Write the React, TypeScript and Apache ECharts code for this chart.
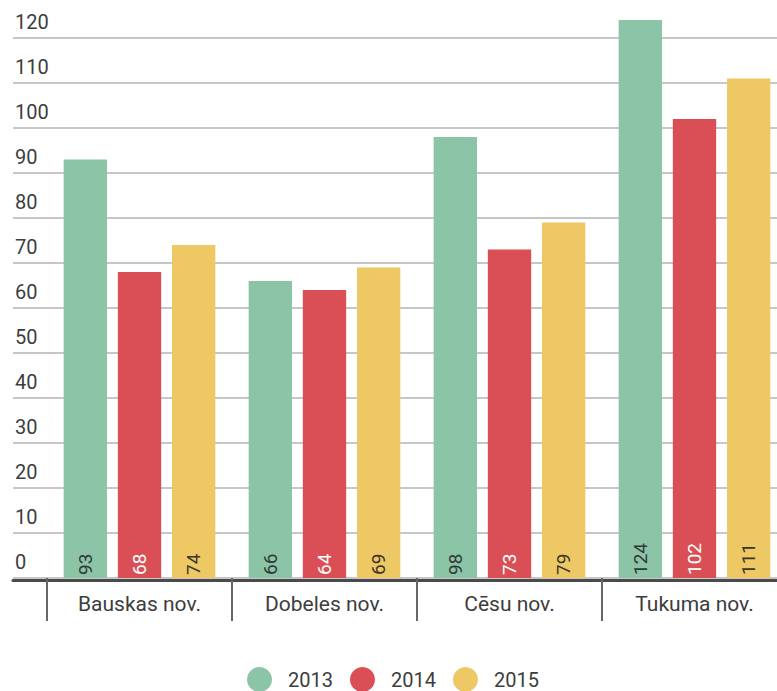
import React, { useEffect, useRef } from "react";
import * as echarts from "echarts";

const categories = ["Bauskas nov.", "Dobeles nov.", "Cēsu nov.", "Tukuma nov."];
const seriesNames = ["2013", "2014", "2015"];
const values2013 = [93, 66, 98, 124];
const values2014 = [68, 64, 73, 102];
const values2015 = [74, 69, 79, 111];
const colors = ["#8cc4a8", "#da4f55", "#edc864"];
const labelColors = ["#2f3a35", "#ffffff", "#3a3628"];

export default function App() {
  const ref = useRef<HTMLDivElement>(null);
  useEffect(() => {
    document.body.style.margin = "0";
    const chart = echarts.init(ref.current!, undefined, { renderer: "svg" });
    const font = "Roboto";
    const seriesData = [values2013, values2014, values2015];
    chart.setOption({
      animation: false,
      textStyle: { fontFamily: font },
      grid: [
        { left: 13, top: 38, width: 774, height: 540 },
        { left: 47, top: 38, width: 740, height: 540 },
      ],
      legend: {
        data: seriesNames,
        left: 247,
        top: 667,
        padding: 0,
        icon: "circle",
        itemWidth: 25,
        itemHeight: 25,
        itemGap: 17,
        textStyle: { fontSize: 20, lineHeight: 20, color: "#3d3d3d", fontFamily: font, padding: [0, 0, 0, 11] },
      },
      xAxis: [
        {
          gridIndex: 0,
          type: "value",
          min: 0,
          max: 1,
          offset: 2,
          axisLine: { show: true, onZero: false, lineStyle: { color: "#4a4a4a", width: 3 } },
          axisTick: { show: false },
          axisLabel: { show: false },
          splitLine: { show: false },
        },
        {
          gridIndex: 1,
          type: "category",
          data: categories,
          offset: 2,
          axisLine: { show: false },
          axisTick: { show: true, length: 43, lineStyle: { color: "#666", width: 2 } },
          axisLabel: { color: "#3d3d3d", fontSize: 21, margin: 13, fontFamily: font },
        },
      ],
      yAxis: [
        {
          gridIndex: 0,
          type: "value",
          min: 0,
          max: 120,
          interval: 10,
          axisLine: { show: false },
          axisTick: { show: false },
          axisLabel: {
            inside: true,
            margin: 2,
            color: "#3d3d3d",
            fontSize: 20,
            fontFamily: font,
            verticalAlign: "bottom",
            padding: [0, 0, 6, 0],
          },
          splitLine: { show: true, lineStyle: { color: "#b4b4b4", width: 1.6 } },
        },
        {
          gridIndex: 1,
          type: "value",
          min: 0,
          max: 120,
          interval: 10,
          show: false,
          splitLine: { show: false },
        },
      ],
      series: seriesNames.map((name, i) => ({
        name,
        type: "bar",
        xAxisIndex: 1,
        yAxisIndex: 1,
        data: seriesData[i],
        clip: false,
        barGap: "25%",
        barCategoryGap: "18%",
        itemStyle: { color: colors[i] },
        label: {
          show: true,
          position: "insideBottom",
          rotate: 90,
          align: "left",
          verticalAlign: "middle",
          distance: 3,
          fontSize: 19,
          fontFamily: font,
          color: labelColors[i],
        },
      })),
    });
    return () => chart.dispose();
  }, []);
  return (
    <div style={{ width: 777, height: 691, overflow: "hidden" }}>
      <div ref={ref} style={{ width: 800, height: 691 }} />
    </div>
  );
}
